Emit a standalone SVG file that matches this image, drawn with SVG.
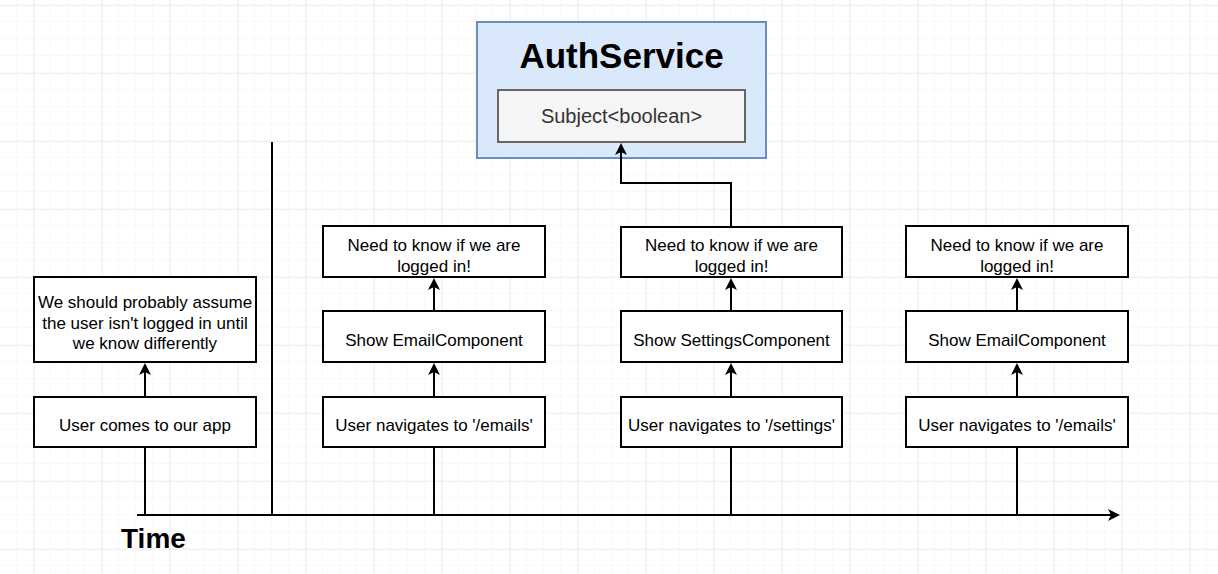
<svg xmlns="http://www.w3.org/2000/svg" width="1218" height="574" viewBox="0 0 1218 574">
<defs>
<pattern id="minor" width="17" height="17" patternUnits="userSpaceOnUse" x="0" y="5">
<path d="M17,0 V17 M0,17 H17" fill="none" stroke="#f2f2f2" stroke-width="1"/>
</pattern>
<pattern id="major" width="68" height="68" patternUnits="userSpaceOnUse" x="34" y="5">
<path d="M0,0 V68 M0,0 H68" fill="none" stroke="#e2e2e2" stroke-width="1"/>
</pattern>
<marker id="arr" viewBox="0 0 12 12" refX="8" refY="6" markerWidth="12" markerHeight="12" markerUnits="userSpaceOnUse" orient="auto">
<path d="M0,0 L12,6 L0,12 L3,6 Z" fill="#000"/>
</marker>
</defs>
<style>
.box{fill:#fff;stroke:#000;stroke-width:2}
.t{font-family:"Liberation Sans",Arial,sans-serif;font-size:17px;fill:#000;text-anchor:middle}
.c{fill:none;stroke:#000;stroke-width:2}
</style>
<rect width="1218" height="574" fill="#fff"/>
<rect width="1218" height="574" fill="url(#minor)"/>
<rect width="1218" height="574" fill="url(#major)"/>

<g id="authservice">
<rect x="477" y="22" width="289" height="136" fill="#dae8fc" stroke="#6c8ebf" stroke-width="2"/>
<text x="621.5" y="68" font-family="'Liberation Sans',Arial,sans-serif" font-size="35" font-weight="bold" text-anchor="middle" fill="#000">AuthService</text>
</g>
<g id="subject">
<rect x="498" y="90" width="247" height="52" fill="#f5f5f5" stroke="#666" stroke-width="2"/>
<text x="621.5" y="123" font-family="'Liberation Sans',Arial,sans-serif" font-size="20" text-anchor="middle" fill="#333">Subject&lt;boolean&gt;</text>
</g>

<g id="assume">
<rect class="box" x="34" y="277" width="222" height="85"/>
<text class="t" x="145" y="308">We should probably assume</text>
<text class="t" x="145" y="329">the user isn't logged in until</text>
<text class="t" x="145" y="349">we know differently</text>
</g>
<g id="comes">
<rect class="box" x="34" y="397" width="222" height="50"/>
<text class="t" x="145" y="431">User comes to our app</text>
</g>

<g id="need1">
<rect class="box" x="323" y="226" width="222" height="51"/>
<text class="t" x="434" y="251">Need to know if we are</text>
<text class="t" x="434" y="272">logged in!</text>
</g>
<g id="show1">
<rect class="box" x="323" y="311" width="222" height="51"/>
<text class="t" x="434" y="346">Show EmailComponent</text>
</g>
<g id="nav1">
<rect class="box" x="323" y="397" width="222" height="50"/>
<text class="t" x="434" y="431">User navigates to '/emails'</text>
</g>

<g id="need2">
<rect class="box" x="621" y="227" width="221" height="50"/>
<text class="t" x="731.5" y="251">Need to know if we are</text>
<text class="t" x="731.5" y="272">logged in!</text>
</g>
<g id="show2">
<rect class="box" x="621" y="311" width="221" height="51"/>
<text class="t" x="731.5" y="346">Show SettingsComponent</text>
</g>
<g id="nav2">
<rect class="box" x="621" y="397" width="221" height="50"/>
<text class="t" x="731.5" y="431">User navigates to '/settings'</text>
</g>

<g id="need3">
<rect class="box" x="906" y="226" width="222" height="51"/>
<text class="t" x="1017" y="251">Need to know if we are</text>
<text class="t" x="1017" y="272">logged in!</text>
</g>
<g id="show3">
<rect class="box" x="906" y="311" width="222" height="51"/>
<text class="t" x="1017" y="346">Show EmailComponent</text>
</g>
<g id="nav3">
<rect class="box" x="906" y="397" width="222" height="50"/>
<text class="t" x="1017" y="431">User navigates to '/emails'</text>
</g>

<g id="time">
<text x="121" y="548" font-family="'Liberation Sans',Arial,sans-serif" font-size="28" font-weight="bold" fill="#000">Time</text>
</g>

<g id="connectors">
<line class="c" x1="137" y1="515" x2="1116" y2="515" marker-end="url(#arr)"/>
<line class="c" x1="272" y1="142" x2="272" y2="515"/>
<line class="c" x1="145" y1="515" x2="145" y2="448"/>
<line class="c" x1="145" y1="396" x2="145" y2="367" marker-end="url(#arr)"/>
<line class="c" x1="434" y1="515" x2="434" y2="448"/>
<line class="c" x1="434" y1="396" x2="434" y2="367" marker-end="url(#arr)"/>
<line class="c" x1="434" y1="310" x2="434" y2="282" marker-end="url(#arr)"/>
<line class="c" x1="731" y1="515" x2="731" y2="448"/>
<line class="c" x1="731" y1="396" x2="731" y2="367" marker-end="url(#arr)"/>
<line class="c" x1="731" y1="310" x2="731" y2="282" marker-end="url(#arr)"/>
<polyline class="c" points="731,226 731,183 621,183 621,147" marker-end="url(#arr)"/>
<line class="c" x1="1017" y1="515" x2="1017" y2="448"/>
<line class="c" x1="1017" y1="396" x2="1017" y2="367" marker-end="url(#arr)"/>
<line class="c" x1="1017" y1="310" x2="1017" y2="282" marker-end="url(#arr)"/>
</g>
</svg>
